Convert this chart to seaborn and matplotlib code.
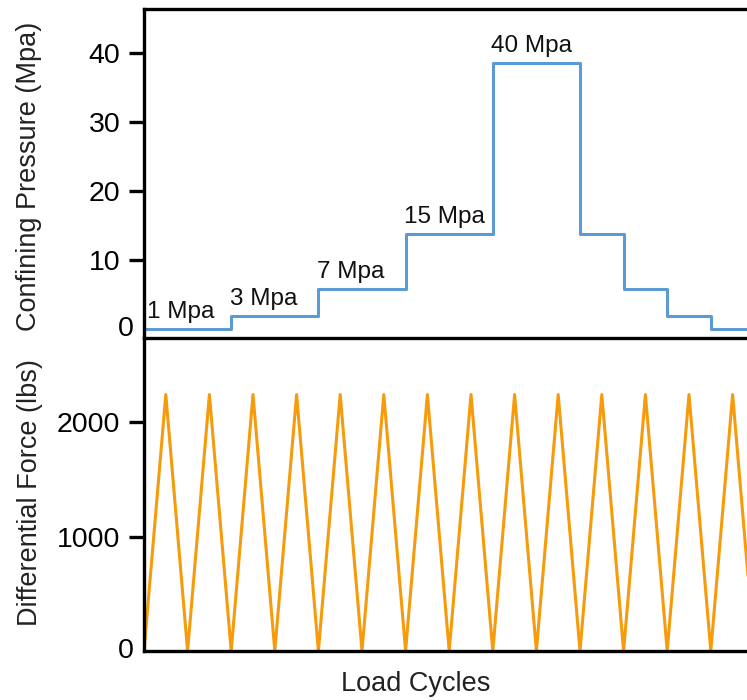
import matplotlib
matplotlib.use("Agg")
import matplotlib.pyplot as plt
import matplotlib.transforms as mtransforms
import seaborn as sns
import pandas as pd

# ---- data ----
step_start_cycle = [0, 2, 4, 6, 8, 10, 11, 12, 13, 14]
pressure_mpa = [0.0, 1.9, 5.8, 13.8, 38.6, 13.8, 5.8, 1.9, 0.0, 0.0]
pressure_labels = ["1 Mpa", "3 Mpa", "7 Mpa", "15 Mpa", "40 Mpa"]
label_index = [0, 1, 2, 3, 4]

force_cycle = [0, 0.5, 1, 1.5, 2, 2.5, 3, 3.5, 4, 4.5, 5, 5.5, 6, 6.5, 7, 7.5,
               8, 8.5, 9, 9.5, 10, 10.5, 11, 11.5, 12, 12.5, 13, 13.5, 14]
force_lbs = [0, 2240, 0, 2240, 0, 2240, 0, 2240, 0, 2240, 0, 2240, 0, 2240, 0, 2240,
             0, 2240, 0, 2240, 0, 2240, 0, 2240, 0, 2240, 0, 2240, 0]

top_ticks = [0, 10, 20, 30, 40]
bottom_ticks = [0, 1000, 2000]

sns.set_theme(style="white")
plt.rcParams['font.family'] = ['Liberation Sans', 'DejaVu Sans']

W, H = 747, 700
fig = plt.figure(figsize=(W / 100, H / 100), dpi=100)

L = 144 / W
ax1 = fig.add_axes([L, (H - 338) / H, 1 - L, (338 - 9) / H])
ax2 = fig.add_axes([L, (H - 651) / H, 1 - L, (651 - 338) / H])

blue = "#5B9BD5"
orange = "#F59B0C"

df_p = pd.DataFrame({"cycle": step_start_cycle, "pressure": pressure_mpa})
sns.lineplot(data=df_p, x="cycle", y="pressure", ax=ax1, color=blue,
             linewidth=2.2, drawstyle="steps-post", estimator=None)

df_f = pd.DataFrame({"cycle": force_cycle, "force": force_lbs})
sns.lineplot(data=df_f, x="cycle", y="force", ax=ax2, color=orange,
             linewidth=2.2, estimator=None)

xmax = (747 - 144) / 43.6
for ax in (ax1, ax2):
    ax.set_xlim(0, xmax)
    ax.set_xticks([])
    ax.set_xlabel("")
    for s in ax.spines.values():
        s.set_color("black")
        s.set_linewidth(2.4)
    ax.spines["right"].set_visible(False)
    ax.tick_params(axis="y", which="major", left=True, length=11, width=2.4,
                   direction="out", pad=6, labelsize=20.5, colors="black")

ax1.spines["bottom"].set_visible(False)
ax1.set_ylim(-1.3, 46.4)
ax1.set_yticks(top_ticks)
ax1.set_ylabel("Confining Pressure (Mpa)", fontsize=19.5, color="#222222")
ax1.yaxis.set_label_coords((42 - 144) / (W - 144), 0.49)

ax2.set_ylim(0, 2734)
ax2.set_yticks(bottom_ticks)
ax2.set_ylabel("Differential Force (lbs)", fontsize=19.5, color="#222222")
ax2.yaxis.set_label_coords((43 - 144) / (W - 144), 0.505)
ax2.set_xlabel("Load Cycles", fontsize=19.5, color="#222222")
ax2.xaxis.set_label_coords((416 - 144) / (W - 144), -0.063)

for txt, i in zip(pressure_labels, label_index):
    ax1.annotate(txt, xy=(step_start_cycle[i], pressure_mpa[i]),
                 xytext=(-1 if i else 2, 8), textcoords="offset points",
                 ha="left", va="baseline", fontsize=17.5, color="#111111")

# zero ticks: no tick mark, label nudged toward the spine
for ax in (ax1, ax2):
    t0 = ax.yaxis.get_major_ticks()[0]
    t0.tick1line.set_visible(False)
    t0.label1.set_transform(t0.label1.get_transform() +
                            mtransforms.ScaledTranslation(0.13, 0.03, fig.dpi_scale_trans))

fig.savefig("out.png", dpi=100)
